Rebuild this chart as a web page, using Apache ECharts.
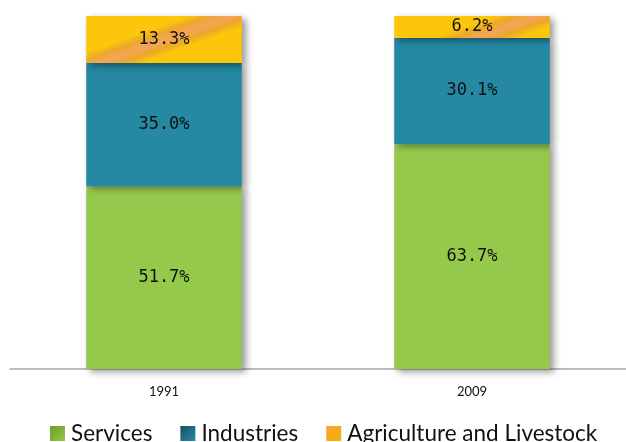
<!DOCTYPE html>
<html>
<head>
<meta charset="utf-8">
<script src="https://cdn.jsdelivr.net/npm/echarts@6/dist/echarts.min.js"></script>
<style>
  html, body { margin: 0; padding: 0; background: #fff; }
  #chart { width: 626px; height: 442px; }
</style>
</head>
<body>
<div id="chart"></div>
<script>
// Employment share by sector (%)
const years = ['1991', '2009'];
const services = [51.7, 63.7];
const industries = [35.0, 30.1];
const agriculture = [13.3, 6.2];

const shadow = {
  shadowColor: 'rgba(0,0,0,0.4)',
  shadowBlur: 7,
  shadowOffsetX: 4,
  shadowOffsetY: 3
};

const labelStyle = {
  show: true,
  position: 'inside',
  fontFamily: 'DejaVu Sans Mono',
  fontSize: 17,
  color: '#111',
  formatter: p => p.value.toFixed(1) + '%'
};

// Yellow fill with a slanted orange sheen; the stripe runs up to the right.
function sheen(x2, y2, at) {
  const w = 0.045;
  return {
    type: 'linear', x: 0, y: 0, x2: x2, y2: y2,
    colorStops: [
      { offset: 0, color: '#FCC70A' },
      { offset: at - 2 * w, color: '#FCC70A' },
      { offset: at - w, color: '#EBA829' },
      { offset: at, color: '#F6A45C' },
      { offset: at + w, color: '#EBA829' },
      { offset: at + 2 * w, color: '#FCC70A' },
      { offset: 1, color: '#FCC70A' }
    ]
  };
}

function iconFill(from, to) {
  return {
    type: 'linear', x: 0, y: 0, x2: 1, y2: 1,
    colorStops: [{ offset: 0, color: from }, { offset: 1, color: to }]
  };
}

const chart = echarts.init(document.getElementById('chart'), null, { renderer: 'canvas' });
chart.setOption({
  animation: false,
  grid: { left: 10, right: 0, top: 16, bottom: 73 },
  legend: {
    top: 417,
    left: 45,
    itemWidth: 15,
    itemHeight: 15,
    itemGap: 28,
    icon: 'rect',
    textStyle: { fontFamily: 'Lato', fontSize: 22.5, color: '#111', padding: [0, 0, 0, 1] },
    data: [
      { name: 'Services', itemStyle: { color: iconFill('#6F9B2A', '#93C94A'), shadowBlur: 0, shadowOffsetX: 0, shadowOffsetY: 0 } },
      { name: 'Industries', itemStyle: { color: iconFill('#174F63', '#2A8CA8'), shadowBlur: 0, shadowOffsetX: 0, shadowOffsetY: 0 } },
      { name: 'Agriculture and Livestock', itemStyle: { color: iconFill('#F7A23A', '#EFB400'), shadowBlur: 0, shadowOffsetX: 0, shadowOffsetY: 0 } }
    ]
  },
  xAxis: {
    type: 'category',
    data: years,
    axisLine: { lineStyle: { color: '#A6A6A6', width: 1.5 } },
    axisTick: { show: false },
    axisLabel: { fontFamily: 'Lato', fontSize: 13, color: '#111', margin: 16 }
  },
  yAxis: {
    type: 'value',
    min: 0,
    max: 100,
    show: false,
    splitLine: { show: false }
  },
  series: [
    {
      name: 'Services', type: 'bar', stack: 'share', barWidth: '50.5%',
      data: services,
      itemStyle: Object.assign({ color: '#95C94B' }, shadow),
      label: labelStyle
    },
    {
      name: 'Industries', type: 'bar', stack: 'share',
      data: industries,
      itemStyle: Object.assign({ color: '#2589A4' }, shadow),
      label: labelStyle
    },
    {
      name: 'Agriculture and Livestock', type: 'bar', stack: 'share',
      data: agriculture.map((v, i) => ({
        value: v,
        itemStyle: { color: i === 0 ? sheen(0.353, 3.26, 0.30) : sheen(0.353, 6.95, 0.30) }
      })),
      itemStyle: Object.assign({ color: '#FCC70A' }, shadow),
      label: labelStyle
    }
  ]
});
</script>
</body>
</html>
